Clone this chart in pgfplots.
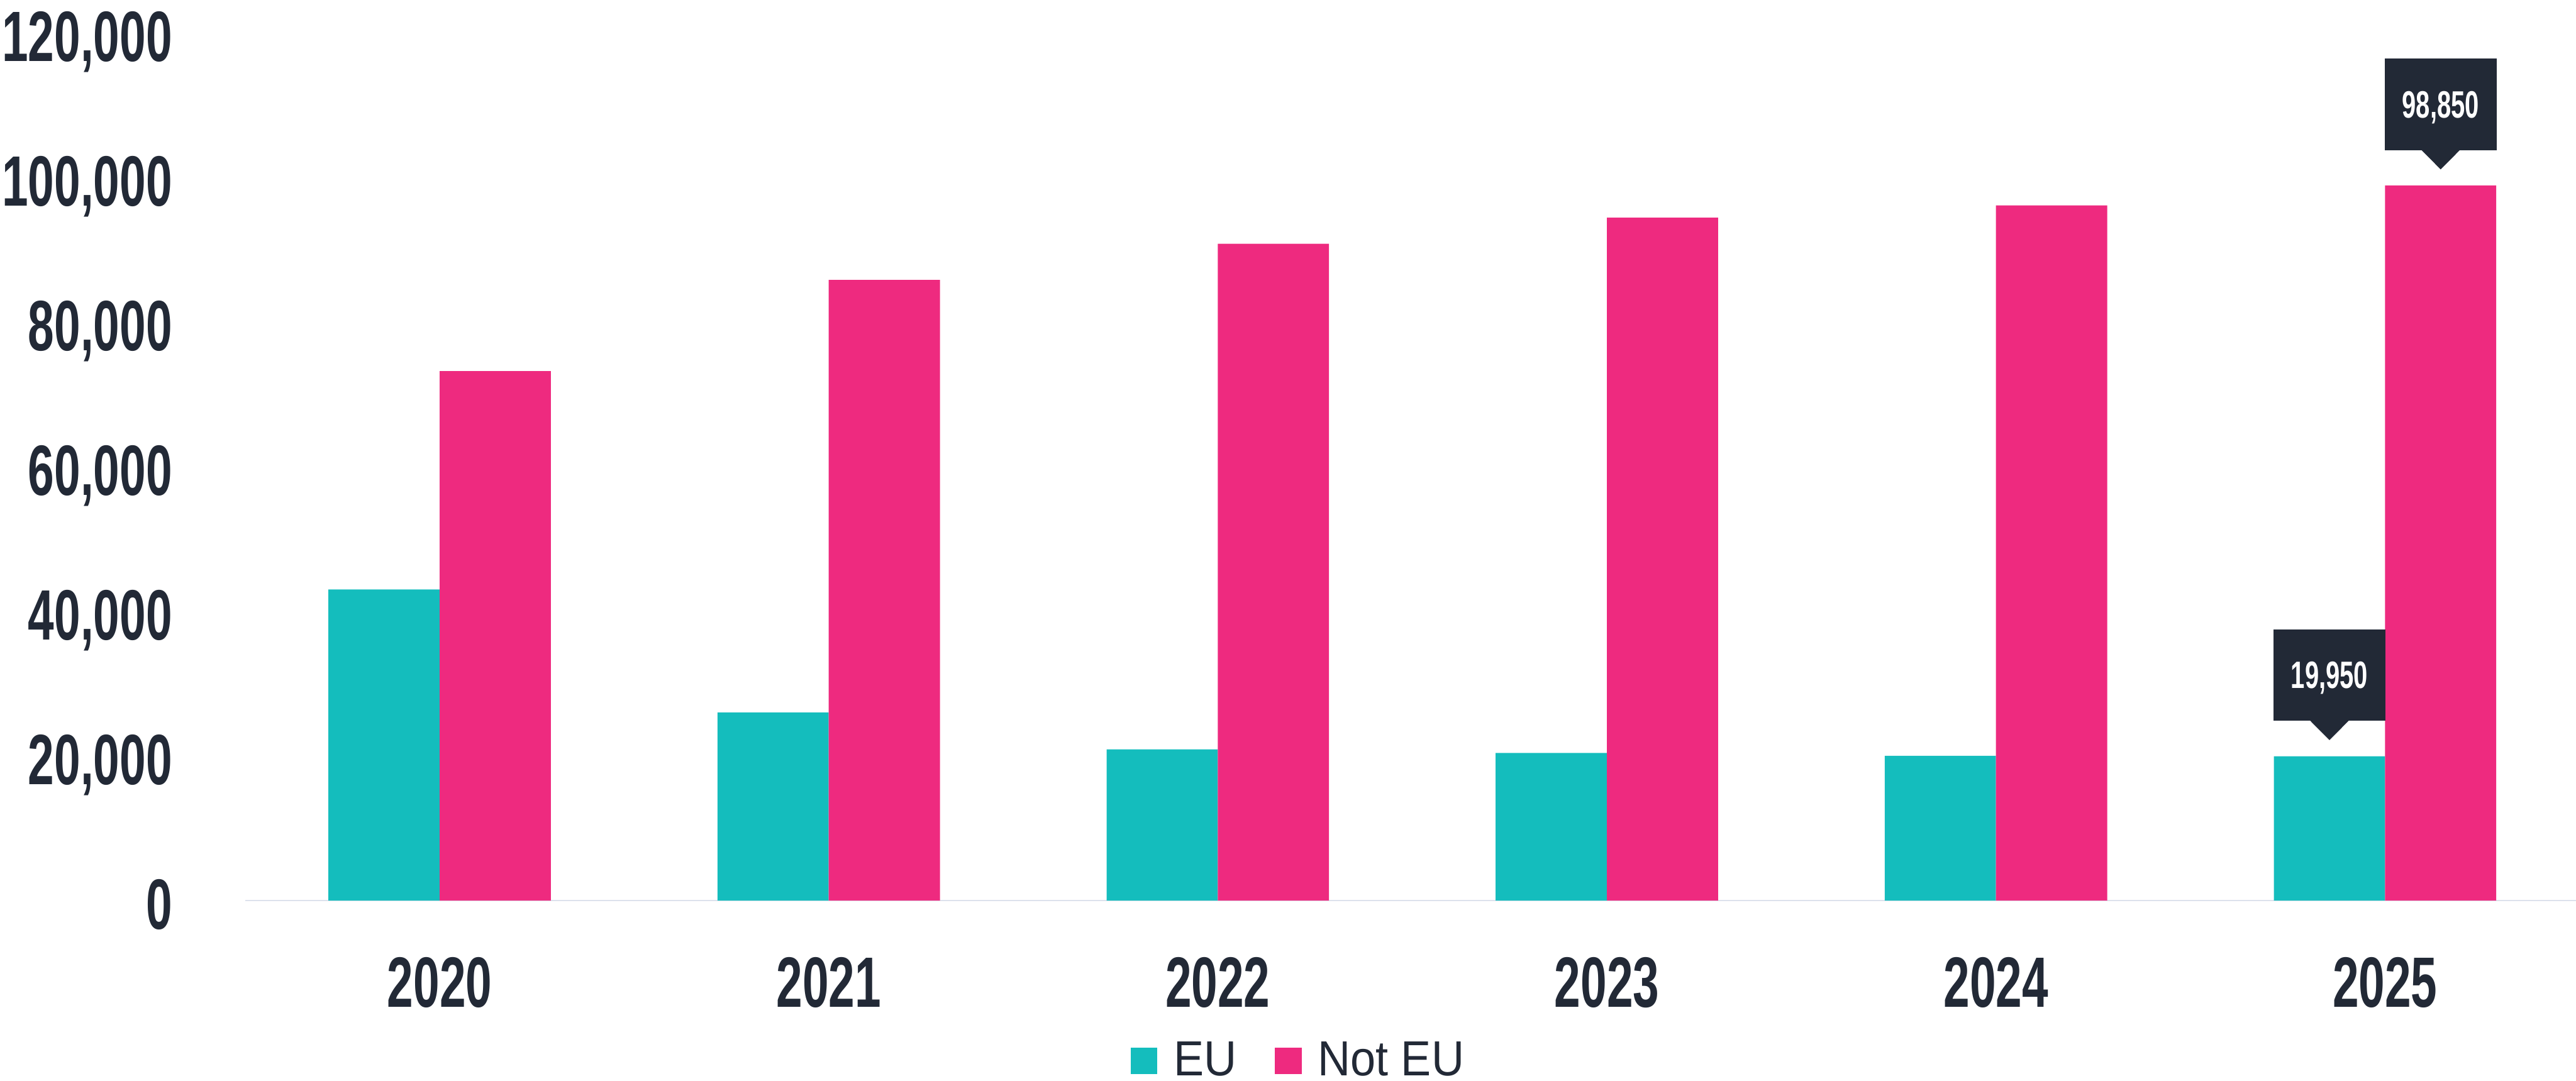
\documentclass[border=0pt]{standalone}
\usepackage{fontspec}
\usepackage{pgfplots}
\usepackage{pgfplotstable}
\pgfplotsset{compat=1.18}
\setmainfont{Liberation Sans}
\newfontfamily\bebas[FakeStretch=0.66]{Liberation Sans Bold}
\newfontfamily\legfont[FakeStretch=0.92]{Liberation Sans}
\definecolor{eu}{HTML}{14BDBD}
\definecolor{noteu}{HTML}{EE2A7F}
\definecolor{ink}{HTML}{222936}
\definecolor{axisline}{HTML}{DDE2EC}

\pgfplotstableread{
x eu noteu
0 43000 73200
1 26000 85800
2 20900 90800
3 20400 94400
4 20000 96100
5 19950 98850
}\datatable

\begin{document}
\begin{tikzpicture}
\begin{axis}[
  scale only axis,
  width=709.3pt, height=264.2pt,
  xmin=-0.5, xmax=5.49, ymin=0, ymax=120000,
  scaled y ticks=false,
  axis x line*=bottom, axis y line*=left,
  x axis line style={-, draw=axisline, line width=0.5pt},
  y axis line style={draw=none},
  major tick length=0pt,
  xtick={0,1,2,3,4,5},
  xticklabels={2020,2021,2022,2023,2024,2025},
  ytick={0,20000,40000,60000,80000,100000,120000},
  yticklabels={0,{20,000},{40,000},{60,000},{80,000},{100,000},{120,000}},
  tick label style={font=\bebas\fontsize{21.7}{21.7}\selectfont, text=ink},
  xticklabel style={anchor=north, inner sep=0pt, yshift=-17pt},
  yticklabel style={anchor=east, inner sep=0pt, text depth=0pt, xshift=-22pt, yshift=-1.1pt},
  clip=false,
  ybar, bar width=33.85pt,
  legend columns=2,
  legend style={at={(rel axis cs:0.4515,-0.1847)}, anchor=center, draw=none, fill=none,
    font=\legfont\fontsize{15}{15}\selectfont, text=ink, inner sep=0pt,
    nodes={inner sep=0pt},
    /tikz/every odd column/.append style={column sep=4.9pt},
    /tikz/every even column/.append style={column sep=11.7pt}},
  legend image code/.code={\fill[#1] (0pt,-4.1pt) rectangle (8.2pt,4.1pt);},
]
\addplot[fill=eu, draw=none, bar shift=-16.925pt] table[x=x, y=eu] {\datatable};
\addlegendentry{EU}
\addplot[fill=noteu, draw=none, bar shift=16.925pt] table[x=x, y=noteu] {\datatable};
\addlegendentry{Not EU}

% callout for Not EU 2025
\fill[ink] ([xshift=16.925pt, yshift=4.9pt]axis cs:5,98850) -- ++(-5.85pt,5.9pt) -- ++(11.7pt,0pt) -- cycle;
\node[fill=ink, text=white, minimum width=34.1pt, minimum height=27.8pt, inner sep=0pt, text depth=0pt,
  anchor=south, font=\bebas\fontsize{11.6}{11.6}\selectfont] at ([xshift=16.925pt, yshift=10.6pt]axis cs:5,98850) {98,850};
% callout for EU 2025
\fill[ink] ([xshift=-16.925pt, yshift=4.9pt]axis cs:5,19950) -- ++(-5.85pt,5.9pt) -- ++(11.7pt,0pt) -- cycle;
\node[fill=ink, text=white, minimum width=34.1pt, minimum height=27.8pt, inner sep=0pt, text depth=0pt,
  anchor=south, font=\bebas\fontsize{11.6}{11.6}\selectfont] at ([xshift=-16.925pt, yshift=10.6pt]axis cs:5,19950) {19,950};

\coordinate (SW) at (rel axis cs:0,0);
\coordinate (NE) at (rel axis cs:1,1);
\end{axis}
\pgfresetboundingbox
\path[use as bounding box] ([xshift=-74.6pt,yshift=-54.9pt]SW) rectangle ([xshift=0.1pt,yshift=9.9pt]NE);
\end{tikzpicture}
\end{document}
